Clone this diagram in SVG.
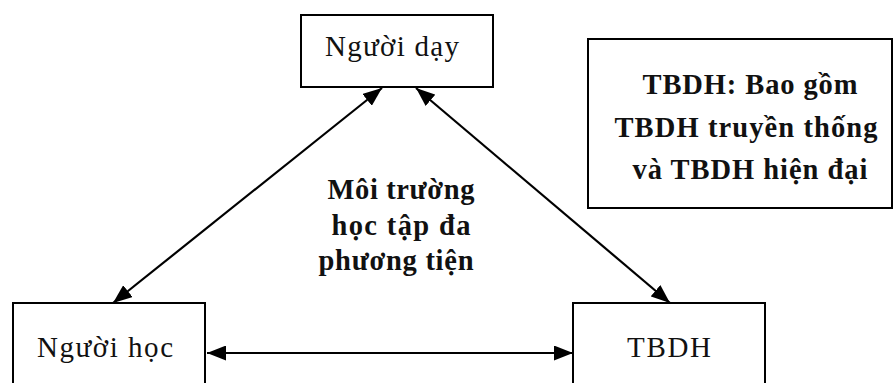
<svg xmlns="http://www.w3.org/2000/svg" width="896" height="383" viewBox="0 0 896 383">
  <style>
    .box { fill: #fff; stroke: #000; stroke-width: 2; }
    .lbl { font-family: "Liberation Serif", "DejaVu Serif", serif; font-size: 29px; fill: #111; text-anchor: middle; }
    .bold { font-weight: bold; font-size: 28.5px; }
    .link { fill: none; stroke: #000; stroke-width: 2.2; marker-start: url(#head); marker-end: url(#head); }
  </style>
  <defs>
    <marker id="head" viewBox="0 0 19 15" refX="19" refY="7.5" markerWidth="19" markerHeight="15" markerUnits="userSpaceOnUse" orient="auto-start-reverse">
      <path d="M0,0 L19,7.5 L0,15 z" fill="#000"/>
    </marker>
  </defs>

  <!-- connectors -->
  <g id="connectors">
    <line class="link" x1="113" y1="303" x2="382" y2="88"/>
    <line class="link" x1="416" y1="88" x2="670" y2="303"/>
    <line class="link" x1="207" y1="353" x2="573" y2="353"/>
  </g>

  <g id="nguoi-day">
    <rect class="box" x="301" y="15" width="192" height="72"/>
    <text class="lbl" x="392" y="56" textLength="134">Người dạy</text>
  </g>

  <g id="nguoi-hoc">
    <rect class="box" x="13" y="303" width="192" height="100"/>
    <text class="lbl" x="105" y="357" textLength="136">Người học</text>
  </g>

  <g id="tbdh">
    <rect class="box" x="573" y="303" width="192" height="100"/>
    <text class="lbl" x="669" y="357" textLength="84">TBDH</text>
  </g>

  <g id="ghi-chu">
    <rect class="box" x="588" y="39" width="304" height="169"/>
    <text class="lbl bold" x="750" y="94" textLength="215">TBDH: Bao gồm</text>
    <text class="lbl bold" x="746" y="137" textLength="263">TBDH truyền thống</text>
    <text class="lbl bold" x="750" y="179" textLength="235">và TBDH hiện đại</text>
  </g>

  <g id="moi-truong">
    <text class="lbl bold" x="401" y="199" textLength="147">Môi trường</text>
    <text class="lbl bold" x="401" y="235" textLength="139">học tập đa</text>
    <text class="lbl bold" x="396" y="270" textLength="155">phương tiện</text>
  </g>
</svg>
